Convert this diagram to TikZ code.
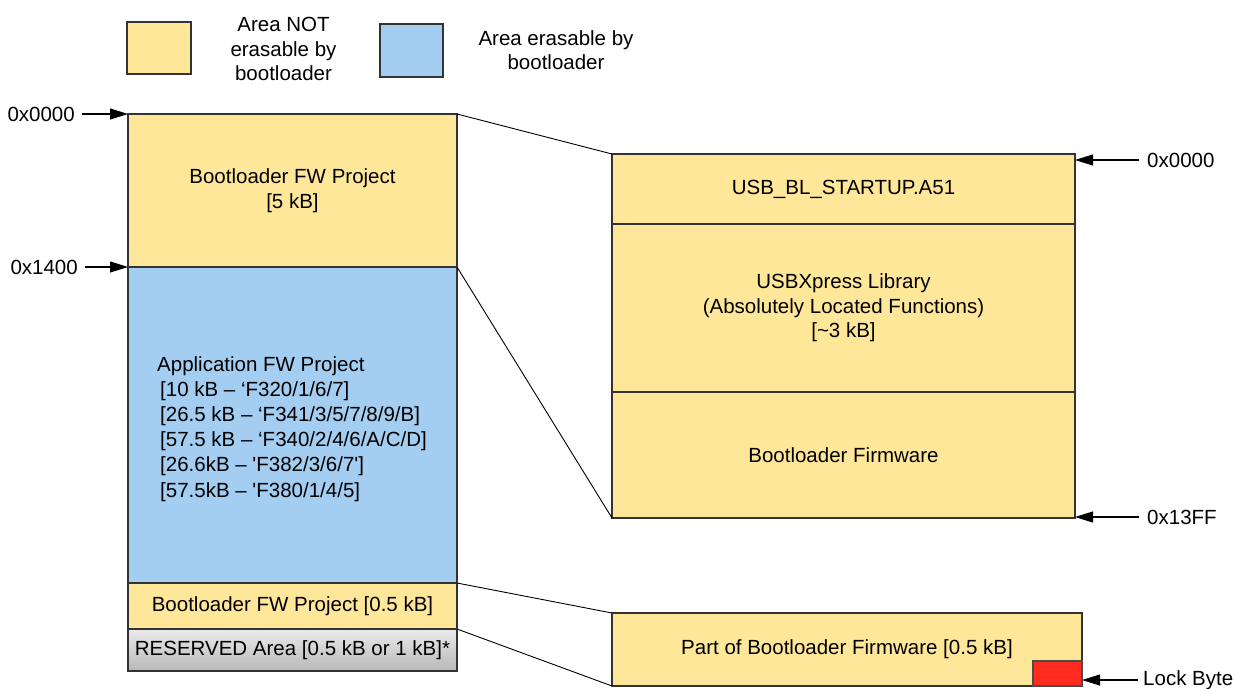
\documentclass[tikz,border=0pt]{standalone}
\usepackage{fontspec}
\setmainfont{Liberation Sans}
\usetikzlibrary{arrows.meta}
\definecolor{memyellow}{HTML}{FFE799}
\definecolor{memblue}{HTML}{A3CEF1}
\definecolor{lockred}{HTML}{FF2B1E}
\definecolor{edgegray}{HTML}{333333}
\begin{document}
\begin{tikzpicture}[x=1pt,y=-1pt,
  txt/.style={font=\fontsize{20.5}{24.5}\selectfont, text=black, inner sep=0pt},
  region/.style={txt, draw=edgegray, line width=1.2pt, outer sep=0pt, anchor=north west, align=center},
  yellowbox/.style={region, fill=memyellow},
  bluebox/.style={region, fill=memblue},
  graybox/.style={region, top color=black!8, bottom color=black!28},
  arr/.style={line width=1.1pt, -{Triangle[length=18pt,width=11pt]}},
  link/.style={line width=0.9pt, black}
]
\useasboundingbox (0,0) rectangle (1236,688);

% legend
\node[yellowbox, minimum width=64pt, minimum height=52pt] (lgy) at (127,22) {};
\node[bluebox, minimum width=63pt, minimum height=53pt] (lgb) at (380,24) {};
\node[txt, anchor=north, align=center] (lgyt) at (283.5,17.3) {Area NOT\\erasable by\\bootloader};
\node[txt, anchor=north, align=center] (lgbt) at (556,30.3) {Area erasable by\\bootloader};

% left memory map
\node[yellowbox, minimum width=329pt, minimum height=153pt] (boot) at (128,114) {Bootloader FW Project\\{}[5 kB]};
\node[bluebox, minimum width=329pt, minimum height=316pt] (app) at (128,267) {};
\node[yellowbox, minimum width=329pt, minimum height=46pt] (boot2) at (128,583) {Bootloader FW Project [0.5 kB]};
\node[graybox, minimum width=329pt, minimum height=42pt] (resv) at (128,629) {RESERVED Area [0.5 kB or 1 kB]*};
\node[txt, font=\fontsize{20.5}{25.2}\selectfont, anchor=north west, align=left] (apptext) at (157,356)
  {Application FW Project\\
   \hspace*{3pt}[10 kB – ‘F320/1/6/7]\\
   \hspace*{3pt}[26.5 kB – ‘F341/3/5/7/8/9/B]\\
   \hspace*{3pt}[57.5 kB – ‘F340/2/4/6/A/C/D]\\
   \hspace*{3pt}[26.6kB – \textquotesingle F382/3/6/7\textquotesingle]\\
   \hspace*{3pt}[57.5kB – \textquotesingle F380/1/4/5]};

% right memory map
\node[yellowbox, minimum width=463pt, minimum height=70pt] (usb) at (612,154) {USB\_BL\_STARTUP.A51};
\node[yellowbox, minimum width=463pt, minimum height=168pt] (lib) at (612,224) {USBXpress Library\\(Absolutely Located Functions)\\{}[\textasciitilde 3 kB]};
\node[yellowbox, minimum width=463pt, minimum height=126pt] (bfw) at (612,392) {Bootloader Firmware};

% bottom right
\node[yellowbox, minimum width=470pt, minimum height=73pt] (part) at (612,613) {Part of Bootloader Firmware [0.5 kB]};
\node[region, fill=lockred, draw=black!70, anchor=south east, minimum width=49pt, minimum height=25pt] (lock) at (part.south east) {};

% connectors between maps
\draw[link] (boot.north east) -- (usb.north west);
\draw[link] (app.north east) -- (bfw.south west);
\draw[link] (boot2.north east) -- (part.north west);
\draw[link] (boot2.south east) -- (part.south west);

% address labels
\node[txt, anchor=east] (l0) at (75,114) {0x0000};
\node[txt, anchor=east] (l1) at (78,267) {0x1400};
\draw[arr, shorten <=7pt] (l0.east) -- (boot.north west);
\draw[arr, shorten <=7pt] (l1.east) -- (app.north west);

\node[txt, anchor=west] (r0) at (1147,160) {0x0000};
\node[txt, anchor=west] (r1) at (1147,517) {0x13FF};
\draw[arr, shorten <=8pt] (r0.west) -- (r0.west -| usb.east);
\draw[arr, shorten <=8pt] (r1.west) -- (r1.west -| bfw.east);

\node[txt, anchor=west] (lockt) at (1143,680) {Lock Byte};
\draw[arr, shorten <=5pt] (lockt.west) -- (lockt.west -| part.east);
\end{tikzpicture}
\end{document}
